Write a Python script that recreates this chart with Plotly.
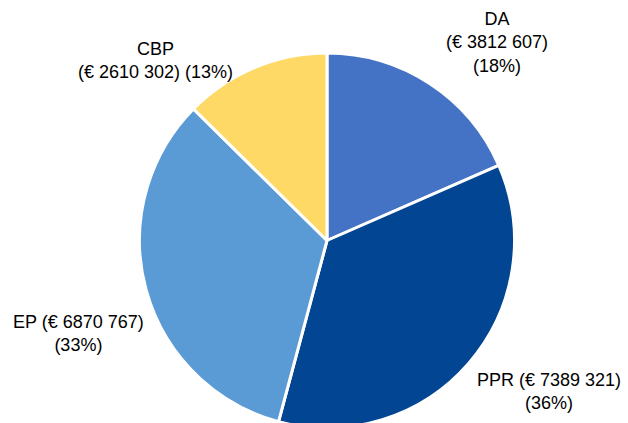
import plotly.graph_objects as go

categories = ["DA", "PPR", "EP", "CBP"]
values = [3812607, 7389321, 6870767, 2610302]
colors = ["#4472C4", "#024693", "#5B9BD5", "#FFD966"]

total = sum(values)

def fmt_eur(v):
    return f"{v // 1000} {v % 1000:03d}"

def pct(v):
    return f"({round(v / total * 100):.0f}%)"

label_text = {
    "DA": f"DA<br>(€ {fmt_eur(values[0])})<br>{pct(values[0])}",
    "PPR": f"PPR (€ {fmt_eur(values[1])})<br>{pct(values[1])}",
    "EP": f"EP (€ {fmt_eur(values[2])})<br>{pct(values[2])}",
    "CBP": f"CBP<br>(€ {fmt_eur(values[3])}) {pct(values[3])}",
}
label_pos = {
    "DA": (497, 43),
    "PPR": (549, 391),
    "EP": (78, 333),
    "CBP": (155, 60),
}

W, H = 628, 428

fig = go.Figure(go.Pie(
    labels=categories,
    values=values,
    sort=False,
    direction="clockwise",
    rotation=0,
    marker=dict(colors=colors, line=dict(color="white", width=3)),
    textinfo="none",
    hoverinfo="label+value+percent",
    showlegend=False,
    domain=dict(x=[139 / W, 515 / W], y=[0, 1 - 53 / H]),
))

for c in categories:
    px, py = label_pos[c]
    fig.add_annotation(
        x=px / W, y=1 - py / H, xref="paper", yref="paper",
        text=label_text[c], showarrow=False, align="center",
        xanchor="center", yanchor="middle",
        font=dict(family="Liberation Sans, Arial, sans-serif", size=18, color="#000000"),
    )

fig.update_layout(
    width=W, height=H,
    margin=dict(l=0, r=0, t=0, b=0),
    paper_bgcolor="white", plot_bgcolor="white",
)

fig.write_html(
    "out.html",
    config={"displayModeBar": False},
    post_script="document.body.style.margin='0';document.body.style.overflow='hidden';",
)
